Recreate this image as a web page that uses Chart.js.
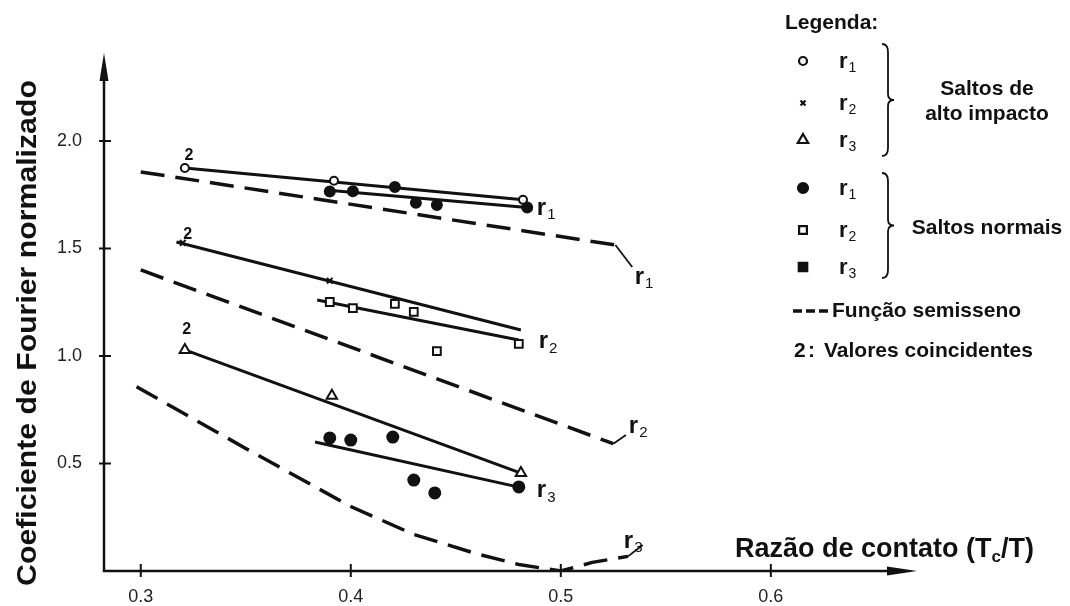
<!DOCTYPE html>
<html lang="pt">
<head>
<meta charset="UTF-8">
<title>Coeficiente de Fourier normalizado x Razão de contato</title>
<script src="https://cdn.jsdelivr.net/npm/chart.js@4.4.0/dist/chart.umd.min.js"></script>
<style>
  html, body { margin: 0; padding: 0; background: #fff; }
  #wrap { width: 1070px; height: 606px; position: relative; }
</style>
</head>
<body>
<div id="wrap"><canvas id="grafico"></canvas></div>
<script>
// eixos
const xTicks = [0.3, 0.4, 0.5, 0.6];
const yTicks = [0.5, 1.0, 1.5, 2.0];

// Saltos de alto impacto
const altoR1 = [[0.321, 1.874], [0.392, 1.815], [0.482, 1.726]];
const altoR2 = [[0.320, 1.526], [0.390, 1.350]];
const altoR3 = [[0.321, 1.028], [0.391, 0.815], [0.481, 0.456]];

// Saltos normais
const normalR1 = [[0.390, 1.765], [0.401, 1.766], [0.421, 1.786], [0.431, 1.712], [0.441, 1.702], [0.484, 1.690]];
const normalR2 = [[0.390, 1.251], [0.401, 1.223], [0.421, 1.242], [0.430, 1.205], [0.441, 1.023], [0.480, 1.056]];
const normalR3 = [[0.390, 0.619], [0.400, 0.609], [0.420, 0.623], [0.430, 0.423], [0.440, 0.363], [0.480, 0.391]];

// retas ajustadas
const retaAltoR1 = [[0.321, 1.874], [0.482, 1.726]];
const retaNormalR1 = [[0.388, 1.772], [0.484, 1.690]];
const retaAltoR2 = [[0.317, 1.530], [0.481, 1.121]];
const retaNormalR2 = [[0.384, 1.260], [0.480, 1.074]];
const retaAltoR3 = [[0.321, 1.028], [0.481, 0.455]];
const retaNormalR3 = [[0.383, 0.600], [0.480, 0.390]];

// função semisseno (tracejado)
const semiR1 = [[0.300, 1.856], [0.526, 1.516]];
const semiR2 = [[0.300, 1.400], [0.525, 0.592]];
const semiR3 = [[0.298, 0.857], [0.350, 0.570], [0.400, 0.300], [0.430, 0.170], [0.460, 0.080],
                [0.480, 0.030], [0.500, 0.000], [0.515, 0.040], [0.532, 0.068]];
// linhas de chamada até os rótulos
const chamadaR1 = [[0.526, 1.516], [0.534, 1.414]];
const chamadaR2 = [[0.525, 0.592], [0.531, 0.633]];
const chamadaR3 = [[0.532, 0.068], [0.539, 0.121]];

// rótulos r1/r2/r3 e "2" (valores coincidentes)
const rotulosR = [['1', 0.4886, 1.656], ['1', 0.5352, 1.335], ['2', 0.4895, 1.037],
                  ['2', 0.5324, 0.642], ['3', 0.4886, 0.344], ['3', 0.5300, 0.107]];
const rotulosDois = [[0.3229, 1.930], [0.3224, 1.563], [0.3219, 1.121]];

const pts = arr => arr.map(([x, y]) => ({ x, y }));
const preto = '#111';
const fonte = '"Liberation Sans", Arial, sans-serif';

function reta(d) {
  return { data: pts(d), showLine: true, borderColor: preto, borderWidth: 3, pointRadius: 0, order: 2 };
}
function tracejado(d) {
  return { data: pts(d), showLine: true, borderColor: preto, borderWidth: 3.5, borderDash: [24, 11],
           borderCapStyle: 'butt', pointRadius: 0, order: 2 };
}
function chamada(d) {
  return { data: pts(d), showLine: true, borderColor: preto, borderWidth: 1.8, pointRadius: 0, order: 2 };
}
function pontos(d, estilo, raio, cheio) {
  return { data: pts(d), showLine: false, pointStyle: estilo, pointRadius: raio,
           pointBorderWidth: 2, pointBorderColor: preto,
           pointBackgroundColor: cheio ? preto : '#fff', order: 0 };
}

function textoR(ctx, sub, x, y, tam, tamSub) {
  ctx.font = 'bold ' + tam + 'px ' + fonte;
  ctx.textAlign = 'left';
  ctx.textBaseline = 'alphabetic';
  ctx.fillText('r', x, y);
  const w = ctx.measureText('r').width;
  ctx.font = tamSub + 'px ' + fonte;
  ctx.fillText(sub, x + w + 1, y + tamSub * 0.3);
}

// eixos com setas, marcas, títulos e legenda
const eixos = {
  id: 'eixos',
  beforeDatasetsDraw(chart) {
    const { ctx, chartArea: a, scales: { x, y } } = chart;
    ctx.save();
    ctx.strokeStyle = preto;
    ctx.fillStyle = preto;
    ctx.lineWidth = 2.5;
    ctx.beginPath();
    ctx.moveTo(a.left, a.bottom + 1);
    ctx.lineTo(a.left, a.top + 20);
    ctx.moveTo(a.left - 1, a.bottom);
    ctx.lineTo(a.right - 20, a.bottom);
    ctx.stroke();
    ctx.beginPath();
    ctx.moveTo(a.left, a.top);
    ctx.lineTo(a.left - 4.5, a.top + 28);
    ctx.lineTo(a.left + 4.5, a.top + 28);
    ctx.closePath();
    ctx.fill();
    ctx.beginPath();
    ctx.moveTo(a.right, a.bottom);
    ctx.lineTo(a.right - 30, a.bottom - 4.5);
    ctx.lineTo(a.right - 30, a.bottom + 4.5);
    ctx.closePath();
    ctx.fill();
    ctx.lineWidth = 2;
    ctx.beginPath();
    xTicks.forEach(v => {
      const px = x.getPixelForValue(v);
      ctx.moveTo(px, a.bottom - 7);
      ctx.lineTo(px, a.bottom + 6);
    });
    yTicks.forEach(v => {
      const py = y.getPixelForValue(v);
      ctx.moveTo(a.left - 5, py);
      ctx.lineTo(a.left + 7, py);
    });
    ctx.stroke();
    ctx.restore();
  },
  afterDraw(chart) {
    const { ctx, scales: { x, y } } = chart;
    ctx.save();
    ctx.fillStyle = preto;
    // rótulos r nas curvas
    rotulosR.forEach(([s, vx, vy]) => textoR(ctx, s, x.getPixelForValue(vx), y.getPixelForValue(vy), 24, 15));
    ctx.font = 'bold 16px ' + fonte;
    ctx.textAlign = 'center';
    ctx.textBaseline = 'middle';
    rotulosDois.forEach(([vx, vy]) => ctx.fillText('2', x.getPixelForValue(vx), y.getPixelForValue(vy)));

    // títulos dos eixos
    ctx.save();
    ctx.translate(29, 333);
    ctx.rotate(-Math.PI / 2);
    ctx.scale(1.12, 1);
    ctx.font = 'bold 27px ' + fonte;
    ctx.textAlign = 'center';
    ctx.textBaseline = 'middle';
    ctx.fillText('Coeficiente de Fourier normalizado', 0, 0);
    ctx.restore();

    ctx.textAlign = 'left';
    ctx.textBaseline = 'alphabetic';
    let tx = 735;
    const ty = 557;
    const parte = (t, f, dy) => { ctx.font = f; ctx.fillText(t, tx, ty + dy); tx += ctx.measureText(t).width; };
    parte('Razão de contato (T', 'bold 27px ' + fonte, 0);
    parte('c', 'bold 17px ' + fonte, 5);
    parte('/T)', 'bold 27px ' + fonte, 0);

    // legenda
    const fonteLeg = 'bold 21px ' + fonte;
    ctx.font = fonteLeg;
    ctx.textBaseline = 'middle';
    ctx.fillText('Legenda:', 785, 23);
    const simbolos = [
      ['circle', 4, false, '1', 61], ['crossRot', 3.5, false, '2', 103], ['triangle', 6, false, '3', 140],
      ['circle', 5, true, '1', 188], ['rect', 5.5, false, '2', 230], ['rect', 6, true, '3', 267]
    ];
    simbolos.forEach(([estilo, raio, cheio, s, py]) => {
      ctx.fillStyle = cheio ? preto : '#fff';
      ctx.strokeStyle = preto;
      ctx.lineWidth = 2.2;
      Chart.helpers.drawPoint(ctx, { pointStyle: estilo, radius: raio, borderWidth: 2.2, rotation: 0 }, 803, py);
      ctx.fillStyle = preto;
      textoR(ctx, s, 839, py + 7, 22, 14);
    });
    // chaves
    const chave = (y0, y1) => {
      const ym = (y0 + y1) / 2, xa = 882, xb = 888, xc = 894;
      ctx.strokeStyle = preto;
      ctx.lineWidth = 1.8;
      ctx.beginPath();
      ctx.moveTo(xa, y0);
      ctx.quadraticCurveTo(xb, y0, xb, y0 + 8);
      ctx.lineTo(xb, ym - 6);
      ctx.quadraticCurveTo(xb, ym, xc, ym);
      ctx.quadraticCurveTo(xb, ym, xb, ym + 6);
      ctx.lineTo(xb, y1 - 8);
      ctx.quadraticCurveTo(xb, y1, xa, y1);
      ctx.stroke();
    };
    chave(44, 156);
    chave(173, 278);
    ctx.font = fonteLeg;
    ctx.textAlign = 'center';
    ctx.textBaseline = 'middle';
    ctx.fillText('Saltos de', 987, 89);
    ctx.fillText('alto impacto', 987, 114);
    ctx.fillText('Saltos normais', 987, 228);
    ctx.textAlign = 'left';
    ctx.lineWidth = 3.5;
    ctx.beginPath();
    [793, 806, 819].forEach(dx => { ctx.moveTo(dx, 311); ctx.lineTo(dx + 9, 311); });
    ctx.stroke();
    ctx.fillText('Função semisseno', 832, 311);
    ctx.fillText('2', 794, 351);
    ctx.fillText(':', 808, 351);
    ctx.fillText('Valores coincidentes', 824, 351);
    ctx.restore();
  }
};

new Chart(document.getElementById('grafico'), {
  type: 'scatter',
  data: {
    datasets: [
      tracejado(semiR1), tracejado(semiR2), tracejado(semiR3),
      chamada(chamadaR1), chamada(chamadaR2), chamada(chamadaR3),
      reta(retaAltoR1), reta(retaNormalR1), reta(retaAltoR2),
      reta(retaNormalR2), reta(retaAltoR3), reta(retaNormalR3),
      pontos(altoR1, 'circle', 4, false),
      pontos(altoR2, 'crossRot', 4, false),
      pontos(altoR3, 'triangle', 6, false),
      pontos(normalR1, 'circle', 5, true),
      pontos(normalR2, 'rect', 5.5, false),
      pontos(normalR3, 'circle', 5.5, true)
    ]
  },
  options: {
    responsive: true,
    maintainAspectRatio: false,
    animation: false,
    layout: { padding: { left: 0, right: 153, top: 53, bottom: 0 } },
    plugins: { legend: { display: false }, tooltip: { enabled: false } },
    scales: {
      x: {
        type: 'linear', min: 0.2825, max: 0.6696,
        afterBuildTicks: s => { s.ticks = xTicks.map(v => ({ value: v })); },
        afterFit: s => { s.height = 35; },
        grid: { display: false }, border: { display: false },
        ticks: { padding: 7, color: '#222', font: { family: fonte, size: 18 },
                 callback: v => v.toFixed(1) }
      },
      y: {
        min: 0, max: 2.409,
        afterBuildTicks: s => { s.ticks = yTicks.map(v => ({ value: v })); },
        afterFit: s => { s.width = 104; },
        grid: { display: false }, border: { display: false },
        ticks: { padding: 14, color: '#222', font: { family: fonte, size: 18 },
                 callback: v => v.toFixed(1) }
      }
    }
  },
  plugins: [eixos]
});
</script>
</body>
</html>
